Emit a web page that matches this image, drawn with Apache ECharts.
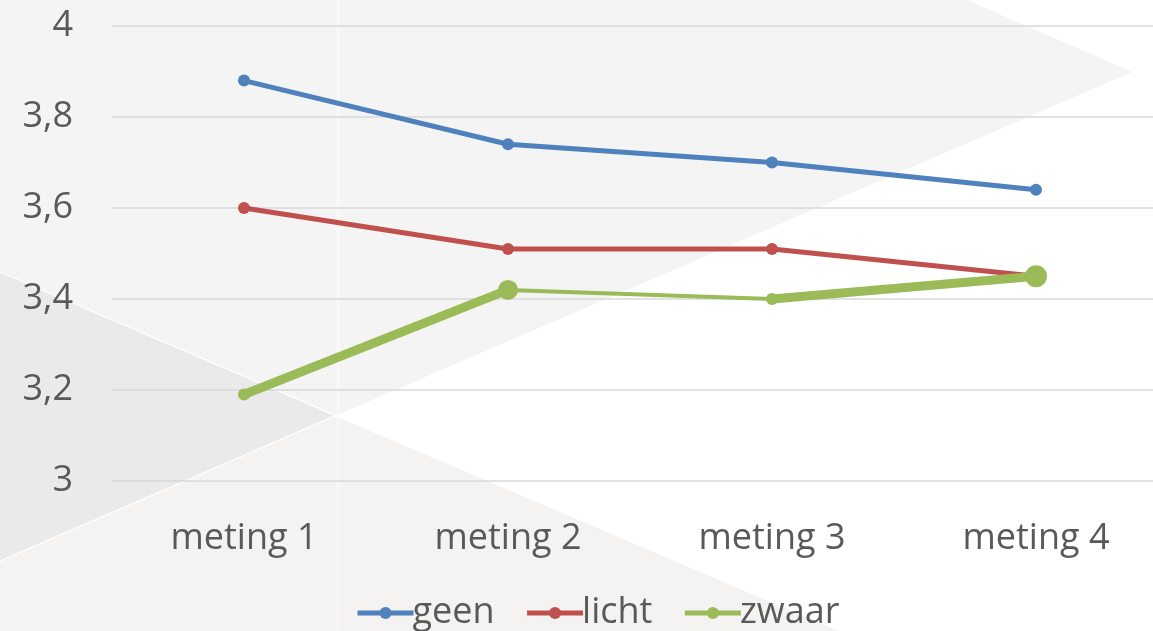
<!DOCTYPE html>
<html>
<head>
<meta charset="utf-8">
<script src="https://cdn.jsdelivr.net/npm/echarts@6/dist/echarts.min.js"></script>
<style>html,body{margin:0;padding:0;background:#fff}#c{width:1153px;height:631px}</style>
</head>
<body>
<div id="c"></div>
<script>
var categories = ['meting 1', 'meting 2', 'meting 3', 'meting 4'];
var geen = [3.88, 3.74, 3.70, 3.64];
var licht = [3.60, 3.51, 3.51, 3.45];
var zwaar = [3.19, 3.42, 3.40, 3.45];
var zwaarThickA = [3.19, 3.42, null, null];
var zwaarThickB = [null, null, 3.40, 3.45];
var zwaarMarkerSizes = [11, 20, 11, 22];
var yTicks = [3, 3.2, 3.4, 3.6, 3.8, 4];

var chart = echarts.init(document.getElementById('c'), null, {renderer: 'canvas'});
var font = '"Open Sans"';
var txt = '#595959';

function fmt(v) { return String(parseFloat(Number(v).toFixed(1))).replace('.', ','); }

var option = {
  backgroundColor: '#ffffff',
  animation: false,
  graphic: [
    {type: 'polygon', z: -100, silent: true, shape: {points: [[0,0],[967,0],[1132,72],[335,416],[0,272]]}, style: {fill: '#f4f4f4'}},
    {type: 'polygon', z: -100, silent: true, shape: {points: [[0,272],[335,416],[0,561]]}, style: {fill: '#eaeaea'}},
    {type: 'polygon', z: -100, silent: true, shape: {points: [[0,561],[335,416],[840,631],[0,631]]}, style: {fill: '#f5f2f2'}},
    {type: 'line', z: -99, silent: true, shape: {x1: 0, y1: 272, x2: 840, y2: 631}, style: {stroke: 'rgba(255,255,255,0.8)', lineWidth: 1.5}},
    {type: 'line', z: -99, silent: true, shape: {x1: 0, y1: 561, x2: 335, y2: 416}, style: {stroke: 'rgba(255,255,255,0.8)', lineWidth: 1.5}},
    {type: 'line', z: -99, silent: true, shape: {x1: 338, y1: 0, x2: 338, y2: 631}, style: {stroke: 'rgba(255,255,255,0.45)', lineWidth: 3}}
  ],
  grid: {left: 112, right: -15, top: 26, bottom: 150, containLabel: false, outerBoundsMode: 'none'},
  legend: {
    left: 350, top: 590,
    itemWidth: 56, itemHeight: 15, itemGap: 30,
    lineStyle: {width: 5},
    textStyle: {fontFamily: font, fontSize: 36, color: txt, padding: [0, 0, 0, -6]},
    data: ['geen', 'licht', 'zwaar']
  },
  xAxis: {
    type: 'category', data: categories, boundaryGap: true,
    axisLine: {show: false}, axisTick: {show: false},
    axisLabel: {fontFamily: font, fontSize: 36, color: txt, margin: 40}
  },
  yAxis: {
    type: 'value', min: 3, max: 4, interval: 0.2,
    axisLine: {show: false}, axisTick: {show: false},
    splitLine: {lineStyle: {color: '#d9d9d9', width: 1.5}},
    axisLabel: {fontFamily: font, fontSize: 36, color: txt, margin: 39, formatter: fmt}
  },
  series: [
    {name: 'geen', type: 'line', data: geen, color: '#4f81bd', symbol: 'circle', symbolSize: 12,
      lineStyle: {width: 5}, itemStyle: {color: '#4f81bd'}, z: 2},
    {name: 'licht', type: 'line', data: licht, color: '#c0504d', symbol: 'circle', symbolSize: 12,
      lineStyle: {width: 5}, itemStyle: {color: '#c0504d'}, z: 3},
    {name: 'zwaar', type: 'line', data: zwaar, color: '#9bbb59', symbol: 'circle', symbolSize: 12, showSymbol: true,
      lineStyle: {width: 4}, itemStyle: {color: '#9bbb59'}, z: 4},
    {name: 'zwaar_a', type: 'line', data: zwaarThickA, symbol: 'none', connectNulls: false,
      lineStyle: {width: 9, color: '#9bbb59'}, z: 5},
    {name: 'zwaar_b', type: 'line', data: zwaarThickB, symbol: 'none', connectNulls: false,
      lineStyle: {width: 9, color: '#9bbb59'}, z: 5},
    {name: 'zwaar_m', type: 'scatter', z: 6, itemStyle: {color: '#9bbb59', opacity: 1},
      data: zwaar.map(function (v, i) { return {value: [i, v], symbolSize: zwaarMarkerSizes[i]}; })}
  ]
};
chart.setOption(option);
</script>
</body>
</html>
